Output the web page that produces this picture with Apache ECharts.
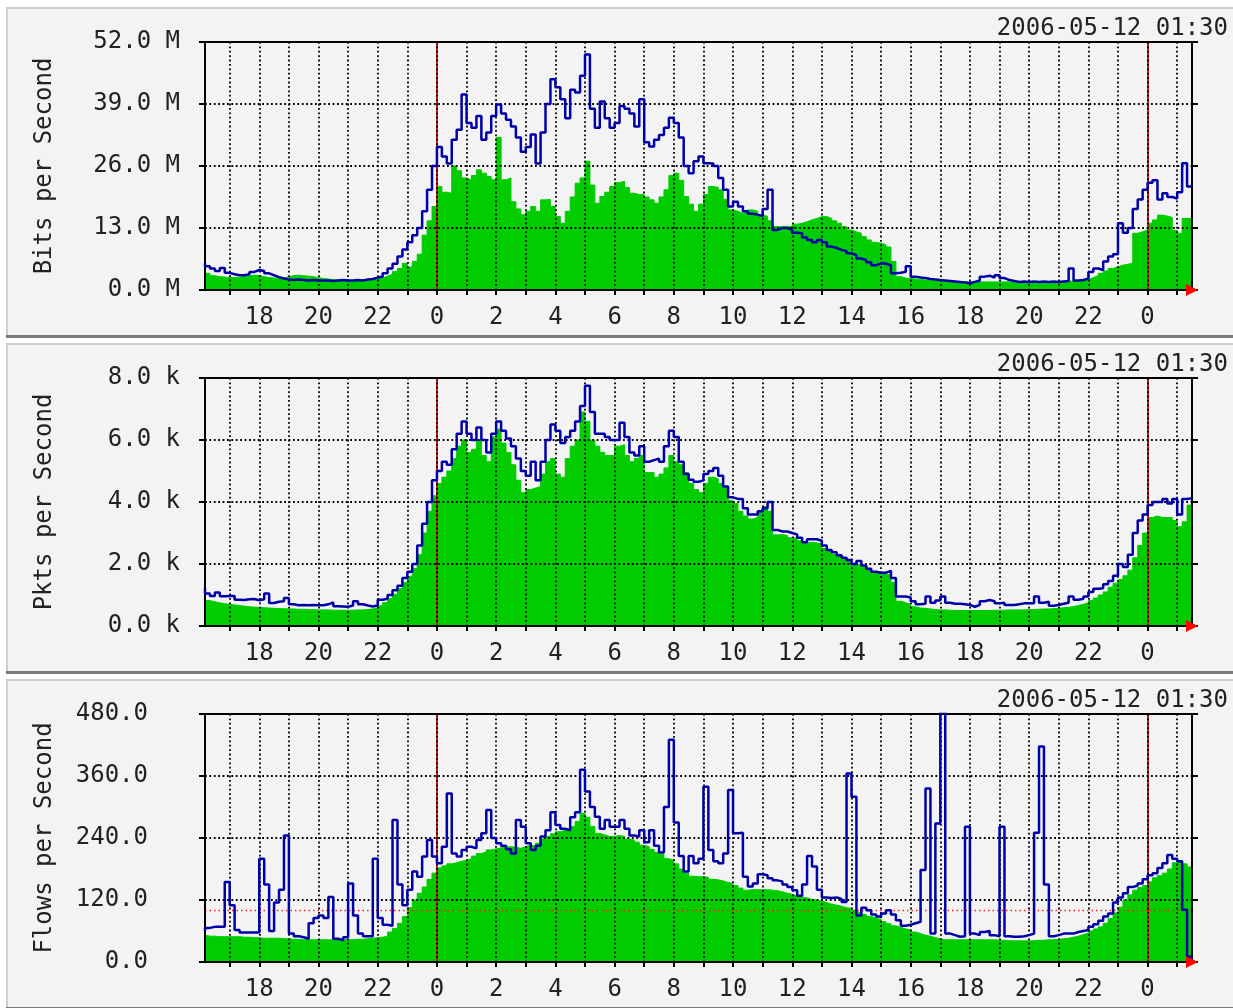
<!DOCTYPE html>
<html><head><meta charset="utf-8">
<script src="https://cdn.jsdelivr.net/npm/echarts@6/dist/echarts.min.js"></script>
<style>html,body{margin:0;padding:0;background:#fff}#c{width:1233px;height:1008px}</style>
</head><body><div id="c"></div>
<script>
// ---- time base: 10-minute samples from 2006-05-10 16:10 to 2006-05-12 01:30 ----
const startDay = 10;
const startMinutes = 16 * 60 + 10;
const stepMinutes = 10;
const sampleCount = 201;
const stampText = '2006-05-12 01:30';

// ---- Bits per Second (millions) ----
const bitsGreen = [
 4.8,3.5,3.0,2.8,2.7,2.6, 2.6,2.7,2.8,3.0,3.1,3.0, 2.8,2.6,2.5,2.4,2.5,2.8,
 3.0,3.1,3.0,2.9,2.8,2.6, 2.4,2.3,2.2,2.1,2.1,2.0, 2.0,2.0,2.1,2.1,2.2,2.3,
 2.5,2.9,3.3,3.9,4.5,5.6, 4.8,6.0,7.5,11.5,14.5,17.5, 21.7,20.5,20.3,26,25,23.5,
 23.1,24,25.2,24.5,23.8,23.1, 32,23.1,23.5,18.5,17,15.8, 16.5,17.5,16.5,18.9,19,17.5,
 15.4,14,16.5,19.5,22.4,23.5, 27,22,18.2,19.6,20.5,21.7, 22.5,22.8,21.5,20.3,20,20,
 19.5,18.9,18.2,19.5,21,24, 24.5,23,19.6,18,16.5,18, 20,21.7,21.5,21,19,16.8,
 16.5,16.1,16.3,16.8,16.5,15.8, 15.4,14.5,13.3,13.3,13.3,13.3, 13.8,14,14.3,14.7,15,15.4,
 15.4,15,14.5,14,13.3,12.6, 12.2,11.9,11.2,10.5,10,9.8, 9.5,9.0,6.0,2.8,2.5,2.4,
 2.3,2.2,2.1,2.1,2.0,2.0, 2.0,1.9,1.8,1.7,1.7,1.7, 1.7,1.7,1.7,1.7,1.7,1.7,
 1.7,1.7,1.6,1.6,1.7,1.7, 1.7,1.7,1.7,1.7,1.7,1.7, 1.8,1.8,1.9,2.0,2.1,2.2,
 2.6,3.0,3.5,4.0,4.5,4.9, 5.2,5.4,5.6,11.9,12.2,12.6, 14,14.7,15.7,15.5,15.2,12.5,
 11.9,15,15
];
const bitsBlue = [
 5.6,5.0,4.5,4.0,4.6,3.6, 3.3,3.1,3.1,3.3,3.8,4.2, 4.0,3.5,3.1,2.7,2.4,2.2,
 2.1,2.2,2.1,2.0,2.1,2.0, 2.0,2.0,1.9,2.0,2.1,2.0, 2.0,2.1,2.0,2.2,2.3,2.6,
 2.8,3.5,4.5,5.5,7.0,8.5, 10,11.5,13,16.5,21,26, 30,28,26.5,31.5,33.6,41,
 35,34,36.5,31.5,33,36.5, 38.9,37,35.7,34.3,32,29, 30,32.6,26.5,33,39,44.2,
 42.5,40,36,42,41.4,44.9, 49.4,38,34,39.5,36,34, 35,38.6,38,37,34.3,40,
 31,30.1,31.5,32.5,34,36.1, 35,32,26,24.5,27,28, 26.6,26.5,26,23.5,21,17.5,
 18.5,17.5,16.5,16,15.8,15.5, 17,21,12.6,13,13,12.6, 12,11.9,11,10.5,10,10.5,
 10,9.1,8.8,8.4,8.2,7.7, 7.3,6.6,6.3,5.8,5.2,5.6, 5.5,5.2,3.5,3.6,3.8,5.0,
 2.8,2.6,2.5,2.3,2.2,2.1, 2.0,1.9,1.8,1.7,1.6,1.4, 1.7,2.0,2.8,3.0,2.6,3.1,
 2.5,2.1,1.9,1.7,1.8,1.7, 1.8,1.7,1.8,1.7,1.8,1.7, 1.8,1.9,4.5,2.0,2.1,2.4,
 3.8,4.5,4.2,6.0,7.0,7.5, 14,12,13,17,19,21, 22.5,23,19,20.3,19.5,19.2,
 20.5,26.6,21.7
];

// ---- Pkts per Second (thousands) ----
const pktsGreen = [
 0.90,0.82,0.78,0.75,0.72,0.70, 0.68,0.66,0.64,0.62,0.61,0.60, 0.59,0.58,0.57,0.56,0.56,0.55,
 0.55,0.54,0.54,0.53,0.53,0.52, 0.52,0.52,0.51,0.51,0.51,0.51, 0.51,0.52,0.52,0.53,0.55,0.58,
 0.65,0.75,0.88,1.02,1.2,1.4, 1.6,1.85,2.3,3.0,3.7,4.2, 4.6,4.8,5.0,5.4,5.8,6.0,
 5.6,5.7,6.0,5.5,5.3,6.1, 6.35,5.9,5.6,5.2,4.7,4.3, 4.4,4.45,4.5,4.9,5.3,5.4,
 4.9,4.8,5.4,5.8,6.0,6.9, 6.6,6.0,5.8,5.6,5.5,5.5, 5.8,5.85,5.5,5.3,5.4,5.5,
 4.95,4.95,4.8,4.9,5.1,5.5, 5.3,5.2,4.95,4.6,4.4,4.3, 4.6,4.8,4.75,4.6,4.45,4.05,
 3.95,3.7,3.55,3.45,3.5,3.7, 3.85,3.7,2.94,2.95,2.92,2.85, 2.83,2.75,2.67,2.7,2.68,2.65,
 2.5,2.4,2.3,2.24,2.18,2.1, 1.95,2.0,1.9,1.82,1.75,1.7, 1.68,1.65,1.4,0.8,0.75,0.7,
 0.62,0.58,0.57,0.55,0.53,0.52, 0.52,0.51,0.5,0.5,0.5,0.5, 0.5,0.5,0.5,0.5,0.51,0.51,
 0.51,0.52,0.52,0.52,0.52,0.53, 0.53,0.54,0.55,0.55,0.56,0.57, 0.59,0.6,0.63,0.66,0.7,0.75,
 0.82,0.9,1.0,1.1,1.25,1.38, 1.5,1.62,1.8,2.2,2.6,3.0, 3.5,3.55,3.5,3.5,3.5,3.4,
 3.2,3.36,3.9
];
const pktsBlue = [
 1.21,1.05,0.97,1.08,0.96,0.97, 0.97,0.85,0.84,0.86,0.87,0.83, 0.86,1.05,0.74,0.78,0.80,0.90,
 0.70,0.67,0.68,0.67,0.68,0.67, 0.67,0.70,0.76,0.64,0.63,0.62, 0.66,0.80,0.70,0.66,0.63,0.66,
 0.85,0.88,1.0,1.15,1.3,1.55, 1.75,2.0,2.6,3.3,4.0,4.7, 5.0,5.3,5.2,5.7,6.2,6.6,
 6.2,6.0,6.4,6.0,5.6,6.2, 6.6,6.3,6.05,5.8,5.4,5.0, 4.85,5.3,4.7,5.3,6.0,6.5,
 6.3,5.9,6.1,6.3,6.6,7.1, 7.75,6.9,6.2,6.2,6.1,6.0, 6.0,6.56,6.1,5.6,5.5,5.8,
 5.3,5.35,5.4,5.3,5.8,6.3, 6.1,5.3,4.9,4.72,4.65,4.7, 4.9,5.0,5.1,4.85,4.5,4.15,
 4.1,4.1,3.8,3.6,3.6,3.7, 3.8,4.0,3.1,3.05,3.05,3.0, 2.95,2.85,2.7,2.8,2.8,2.75,
 2.6,2.45,2.38,2.28,2.2,2.13, 2.0,2.1,1.95,1.85,1.75,1.72, 1.72,1.78,1.55,0.95,0.95,0.92,
 0.8,0.7,0.72,0.95,0.75,0.82, 0.95,0.75,0.72,0.72,0.7,0.68, 0.62,0.68,0.8,0.84,0.8,0.73,
 0.75,0.68,0.68,0.7,0.73,0.73, 0.73,0.95,0.75,0.78,0.65,0.68, 0.72,0.75,0.95,0.85,0.88,0.95,
 1.1,1.2,1.22,1.35,1.45,1.62, 2.0,1.9,2.3,3.0,3.4,3.6, 3.9,4.0,4.0,4.1,3.95,4.1,
 3.6,4.1,4.12
];

// ---- Flows per Second ----
const flowsGreen = [
 52,50,50,49,49,49, 49,49,48,48,47,47, 46,46,46,46,45,45,
 44,44,43,43,43,43, 43,43,43,43,43,43, 43,44,44,45,46,47,
 48,50,58,65,75,88, 105,120,133,145,160,172, 182,186,190,192,195,197,
 200,205,210,213,217,219, 221,223,223,222,220,223, 226,224,230,238,243,248,
 252,255,258,262,272,288, 280,262,249,246,243,243, 245,243,238,236,232,226,
 223,218,212,208,200,197, 190,180,172,166,165,165, 164,160,159,157,154,152,
 148,143,139,140,140,140, 140,139,138,136,133,131, 128,126,124,121,120,118,
 115,112,110,108,105,104, 100,96,92,88,85,82, 78,74,70,67,64,62,
 58,55,52,50,47,45, 43,43,43,43,43,43, 43,43,43,43,43,42,
 42,41,41,41,41,41, 41,42,42,43,43,44, 45,46,48,50,53,56,
 60,64,68,75,84,95, 106,120,130,139,144,148, 155,163,167,172,180,192,
 196,190,184
];
const flowsBlue = [
 60,66,68,68,68,155, 110,62,57,57,57,57, 200,150,60,115,140,245,
 55,50,48,45,75,85, 90,85,126,45,42,48, 152,90,55,50,50,200,
 85,72,70,275,150,110, 140,175,165,204,236,204, 191,223,326,210,204,217,
 223,220,236,249,294,240, 230,225,218,210,275,262, 230,217,225,243,255,290,
 265,258,255,280,290,372, 330,300,281,258,275,262, 262,275,258,245,243,255,
 232,255,225,212,300,430, 270,205,175,205,191,200, 339,217,195,191,210,333,
 249,250,165,146,152,170, 168,162,158,156,150,145, 139,128,150,205,185,140,
 125,124,125,122,116,365, 320,90,105,100,92,88, 94,100,92,81,70,72,
 75,78,178,336,55,268, 484,55,52,49,50,262, 55,52,58,60,52,50,
 262,50,49,49,50,52, 55,250,417,150,50,52, 55,55,55,58,60,62,
 68,73,80,88,94,115, 125,133,145,148,152,160, 168,172,182,191,207,200,
 195,101,10
];
const flowsRule = 100;

// ---- axis definitions ----
const panels = [
  { title: 'Bits per Second',  green: bitsGreen,  blue: bitsBlue,  max: 52,  step: 13,  unit: ' M', labelMargin: 25 },
  { title: 'Pkts per Second',  green: pktsGreen,  blue: pktsBlue,  max: 8,   step: 2,   unit: ' k', labelMargin: 25 },
  { title: 'Flows per Second', green: flowsGreen, blue: flowsBlue, max: 480, step: 120, unit: '',   labelMargin: 57, rule: flowsRule }
];

// ---- layout / style ----
const FONT = 'DejaVu Sans Mono';
const FS = 24;
const PANEL_DY = 336;
const G_LEFT = 205, G_TOP = 42, G_W = 987, G_H = 248;
const GREEN = '#00cc00', BLUE = '#0000a8', RED = '#cc1818', INK = '#222222';

const minuteOf = i => startMinutes + i * stepMinutes;
const pad = n => String(n).padStart(2, '0');
const categories = [];
for (let i = 0; i < sampleCount; i++) {
  const m = minuteOf(i);
  const day = startDay + Math.floor(m / 1440);
  categories.push('05-' + pad(day) + ' ' + pad(Math.floor(m / 60) % 24) + ':' + pad(m % 60));
}
const isHour = i => minuteOf(i) % 60 === 0;
const hourOf = i => Math.floor(minuteOf(i) / 60) % 24;
const midnights = categories.filter((c, i) => isHour(i) && hourOf(i) === 0);

const dotted = { color: '#000', width: 1.8, type: [1.8, 2.6] };

const option = { animation: false, backgroundColor: '#ffffff', grid: [], xAxis: [], yAxis: [], series: [], graphic: [] };

panels.forEach((p, k) => {
  const top = G_TOP + PANEL_DY * k;
  option.grid.push({ left: G_LEFT, top: top, width: G_W, height: G_H, show: true, borderColor: '#000', borderWidth: 2, backgroundColor: 'transparent' });
  option.xAxis.push({
    type: 'category', gridIndex: k, data: categories, boundaryGap: false, z: 4,
    axisLine: { show: true, lineStyle: { color: '#000', width: 2 } },
    axisTick: { show: true, inside: false, length: 5, interval: (i) => isHour(i), lineStyle: { color: '#000', width: 2 } },
    axisLabel: { show: true, interval: (i) => isHour(i) && hourOf(i) % 2 === 0, formatter: (v, i) => String(hourOf(i)),
                 fontFamily: FONT, fontSize: FS, color: INK, margin: 16 },
    splitLine: { show: true, interval: (i) => isHour(i), lineStyle: dotted }
  });
  option.yAxis.push({
    type: 'value', gridIndex: k, min: 0, max: p.max, interval: p.step, position: 'left', z: 4,
    name: p.title, nameLocation: 'middle', nameGap: 148, nameRotate: 90,
    nameTextStyle: { fontFamily: FONT, fontSize: FS, color: INK },
    axisLine: { show: true, lineStyle: { color: '#000', width: 2 } },
    axisTick: { show: true, length: 6, lineStyle: { color: '#000', width: 2 } },
    axisLabel: { formatter: v => v.toFixed(1) + p.unit, fontFamily: FONT, fontSize: FS, color: INK, margin: p.labelMargin },
    splitLine: { show: true, lineStyle: dotted }
  });
  option.yAxis.push({
    type: 'value', gridIndex: k, min: 0, max: p.max, interval: p.step, position: 'right', z: 4,
    axisLine: { show: true, lineStyle: { color: '#000', width: 2 } },
    axisTick: { show: true, length: 6, lineStyle: { color: '#000', width: 2 } },
    axisLabel: { show: false }, splitLine: { show: false }
  });
  option.series.push({
    name: p.title + ' (area)', type: 'line', xAxisIndex: k, yAxisIndex: 2 * k, data: p.green,
    step: 'start', symbol: 'none', silent: true, z: 2,
    lineStyle: { color: GREEN, width: 1 }, areaStyle: { color: GREEN, opacity: 1 }
  });
  const ml = midnights.map(c => ({ xAxis: c, lineStyle: { color: RED, width: 2, type: 'solid' } }));
  if (p.rule !== undefined) ml.push({ yAxis: p.rule, lineStyle: { color: '#ff2020', width: 1.3, type: [1.5, 3] } });
  option.series.push({
    name: p.title + ' (line)', type: 'line', xAxisIndex: k, yAxisIndex: 2 * k, data: p.blue,
    step: 'start', symbol: 'none', silent: true, z: 5,
    lineStyle: { color: BLUE, width: 2.5 },
    markLine: { silent: true, symbol: 'none', label: { show: false }, z: 3, data: ml }
  });

  // panel frame
  const py = 7 + PANEL_DY * k;
  option.graphic.push(
    { type: 'rect', z: -10, shape: { x: 6, y: py, width: 1240, height: 331 }, style: { fill: '#f3f3f3' } },
    { type: 'rect', z: -9, shape: { x: 6, y: py, width: 1240, height: 2 }, style: { fill: '#cfcfcf' } },
    { type: 'rect', z: -9, shape: { x: 6, y: py, width: 2, height: 331 }, style: { fill: '#cfcfcf' } },
    { type: 'rect', z: -9, shape: { x: 6, y: py + 328, width: 1240, height: 3 }, style: { fill: '#7c7c7c' } },
    { type: 'text', z: 10, x: 1228, y: py + 22, style: { text: stampText, font: FS + 'px "' + FONT + '"', fill: INK, textAlign: 'right', textVerticalAlign: 'middle' } },
    { type: 'polygon', z: 20, shape: { points: [[G_LEFT + G_W - 6, top + G_H - 6], [G_LEFT + G_W + 6, top + G_H], [G_LEFT + G_W - 6, top + G_H + 6]] }, style: { fill: '#ff0000' } }
  );
});

const chart = echarts.init(document.getElementById('c'), null, { renderer: 'canvas' });
chart.setOption(option);
</script>
</body></html>
